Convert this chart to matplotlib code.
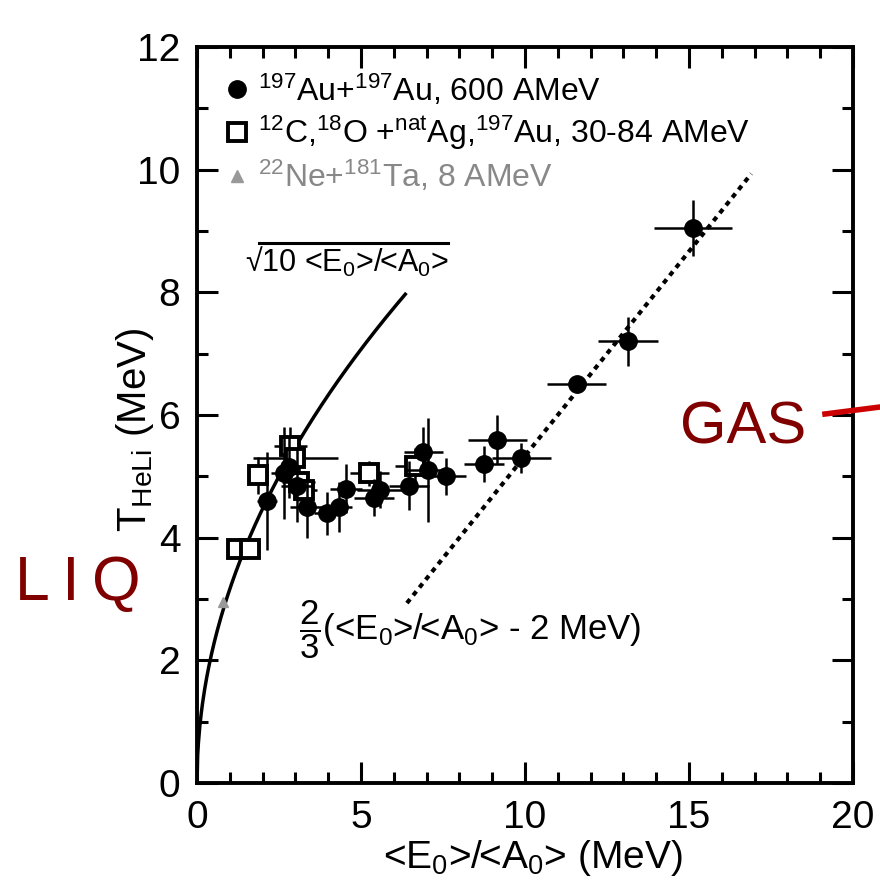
import numpy as np
import matplotlib.pyplot as plt
from matplotlib.lines import Line2D
from matplotlib.transforms import IdentityTransform

plt.rcParams['font.family'] = ['Liberation Sans', 'DejaVu Sans']
plt.rcParams['mathtext.fontset'] = 'custom'
plt.rcParams['mathtext.rm'] = 'Liberation Sans'
plt.rcParams['mathtext.it'] = 'Liberation Sans'
plt.rcParams['mathtext.bf'] = 'Liberation Sans:bold'

# 197Au + 197Au, 600 AMeV (filled circles)
au_x = [2.13, 2.65, 2.8, 3.05, 3.35, 3.96, 4.33, 4.54, 5.4, 5.58, 6.46, 6.9, 7.05, 7.6, 8.75, 9.15, 9.88, 11.58, 13.14, 15.12]
au_y = [4.6, 5.05, 5.15, 4.85, 4.5, 4.4, 4.5, 4.8, 4.65, 4.78, 4.85, 5.4, 5.1, 5.0, 5.2, 5.6, 5.3, 6.5, 7.2, 9.05]
au_xerr = [0.3, 0.4, 0.3, 0.5, 0.5, 0.4, 0.4, 0.5, 0.6, 0.7, 0.6, 0.6, 0.7, 0.6, 0.6, 0.9, 0.9, 0.9, 0.9, 1.2]
au_yerr = [0.8, 0.75, 0.5, 0.6, 0.5, 0.35, 0.4, 0.4, 0.3, 0.3, 0.4, 0.4, 0.85, 0.3, 0.3, 0.4, 0.25, 0.1, 0.4, 0.45]

# 12C,18O + natAg,197Au, 30-84 AMeV (open squares)
co_x = [1.22, 1.62, 1.86, 2.85, 3.0, 3.1, 3.25, 5.25, 6.65]
co_y = [3.82, 3.82, 5.02, 5.5, 5.3, 4.9, 4.78, 5.05, 5.17]
co_xerr = [0.15, 0.15, 0.3, 0.5, 1.3, 0.5, 0.4, 0.6, 0.6]
co_yerr = [0.1, 0.1, 0.3, 0.3, 0.3, 0.3, 0.3, 0.2, 0.3]

# 22Ne + 181Ta, 8 AMeV (grey triangle)
ne_x = [0.8]
ne_y = [2.95]

fig = plt.figure(figsize=(8.8, 8.92), dpi=100)
ax = fig.add_axes([197 / 880, 1 - 783 / 892, 656 / 880, 736 / 892])

# model curves
xs = np.linspace(0, 6.35, 300)
ax.plot(xs, np.sqrt(10 * xs), color='black', lw=2.5, zorder=2)
xl = np.linspace(6.4, 16.9, 50)
ax.plot(xl, 2 / 3 * (xl - 2), color='black', lw=3, linestyle=(0, (1.2, 1.2)), zorder=2)

ax.errorbar(au_x, au_y, xerr=au_xerr, yerr=au_yerr, fmt='o', color='black',
            ms=12.5, elinewidth=1.8, capsize=0, zorder=4)
ax.errorbar(co_x, co_y, xerr=co_xerr, yerr=co_yerr, fmt='s', color='black', mfc='white',
            mec='black', ms=13, mew=2.8, elinewidth=1.8, capsize=0, zorder=3)
ax.plot(ne_x, ne_y, '^', color='#999999', ms=7, zorder=3)

ax.set_xlim(0, 20)
ax.set_ylim(0, 12)
ax.set_xticks([0, 5, 10, 15, 20])
ax.set_yticks([0, 2, 4, 6, 8, 10, 12])
ax.set_xticks(np.arange(0, 21, 1), minor=True)
ax.set_yticks(np.arange(0, 13, 1), minor=True)
ax.tick_params(which='both', direction='in', top=True, right=True, width=2.2)
ax.tick_params(which='major', length=15, labelsize=28, pad=12)
ax.tick_params(which='minor', length=8)
for sp in ax.spines.values():
    sp.set_linewidth(2.8)

ax.set_xlabel(r'<E$_0$>/<A$_0$> (MeV)', fontsize=28)
ax.xaxis.set_label_coords(0.512, -0.075)
ax.set_ylabel(r'T$_{\mathrm{HeLi}}$ (MeV)', fontsize=29)
ax.yaxis.set_label_coords(-0.063, 0.48)

handles = [
    Line2D([], [], marker='o', color='black', ls='none', ms=12.5),
    Line2D([], [], marker='s', mfc='white', mec='black', mew=2.8, ls='none', ms=13),
    Line2D([], [], marker='^', color='#999999', ls='none', ms=8),
]
labels = [
    r'$^{197}$Au+$^{197}$Au, 600 AMeV',
    r'$^{12}$C,$^{18}$O +$^{nat}$Ag,$^{197}$Au, 30-84 AMeV',
    r'$^{22}$Ne+$^{181}$Ta, 8 AMeV',
]
leg = ax.legend(handles, labels, loc='upper left', bbox_to_anchor=(0.02, 0.983),
                frameon=False, fontsize=23, handletextpad=0.2, labelspacing=0.2,
                handlelength=0.9, borderaxespad=0)
leg.get_texts()[2].set_color('#888888')

sq = ax.text(1.45, 8.5, r'√10 <E$_0$>/<A$_0$>', fontsize=22, va='center')
ax.text(3.1, 2.5, r'$\dfrac{2}{3}$(<E$_0$>/<A$_0$> - 2 MeV)', fontsize=25, va='center')

# overline of the square root, taken from the rendered text extent
fig.canvas.draw()
bb = sq.get_window_extent()
fig.add_artist(Line2D([bb.x0 + 0.07 * bb.width, bb.x1], [bb.y1 + 2, bb.y1 + 2],
                      transform=IdentityTransform(), color='black', lw=2.2))

# handwritten annotations
fig.text(15 / 880, 1 - 583 / 892, 'L\u2009I\u2009Q', color='#800000', fontsize=45, va='center')
fig.text(680 / 880, 1 - 428 / 892, 'GAS', color='#800000', fontsize=43, va='center')
fig.add_artist(Line2D([825 / 880, 1.0], [1 - 414 / 892, 1 - 407 / 892], color='#cc0000', lw=4))

fig.savefig('out.png', dpi=100)
